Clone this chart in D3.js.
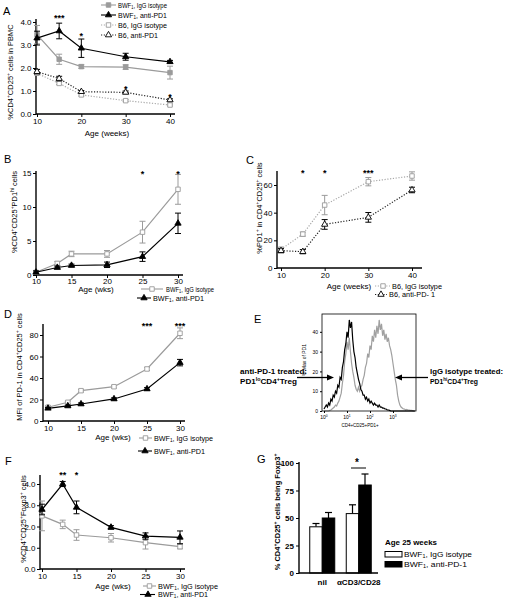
<!DOCTYPE html>
<html><head><meta charset="utf-8">
<script src="https://cdn.jsdelivr.net/npm/d3@7"></script>
<style>
body{margin:0;background:#fff}
svg{display:block}
</style></head><body>
<svg id="c" width="507" height="599"></svg>
<script>
// ================= DATA =================
// Panel A
const A_weeks=[10,15,20,30,40];
const A_bwfIgG=[3.45,2.38,2.06,2.04,1.8];
const A_bwfIgG_err=[0.4,0.22,0.08,0.1,0.28];
const A_bwfAnti=[3.3,3.61,2.86,2.49,2.27];
const A_bwfAnti_err=[0.3,0.34,0.4,0.15,0.06];
const A_b6IgG=[1.77,1.33,0.83,0.58,0.39];
const A_b6IgG_err=[0.05,0.05,0.05,0.04,0.04];
const A_b6Anti=[1.84,1.54,0.97,0.94,0.61];
const A_b6Anti_err=[0.1,0.1,0.05,0.06,0.05];
const A_starWeeks=[15,20,30,40];
const A_starVals=[4.26,3.48,1.17,0.83];
const A_starText=["***","*","*","*"];
const A_xticks=[10,20,30,40];
const A_yticks=[0,1,2,3,4];
// Panel B
const B_weeks=[10,13,15,20,25,30];
const B_igg=[0.4,1.7,3.1,3.1,6.3,12.6];
const B_igg_err=[0.2,0.3,0.4,0.5,1.6,2.2];
const B_anti=[0.4,1.1,1.4,1.5,2.7,7.6];
const B_anti_err=[0.2,0.2,0.2,0.4,0.7,1.5];
const B_starWeeks=[25,30];
const B_starVals=[15.1,15.1];
const B_starText=["*","*"];
const B_xticks=[10,15,20,25,30];
const B_yticks=[0,5,10,15];
// Panel C
const C_weeks=[10,15,20,30,40];
const C_igg=[13.5,24.5,45.5,62.4,66.5];
const C_igg_err=[1.5,1.5,7,3,3];
const C_anti=[12.5,11.8,31.5,36.6,56.4];
const C_anti_err=[1.5,1.5,3.5,3.5,2];
const C_starWeeks=[15,20,30];
const C_starVals=[70,70,70];
const C_starText=["*","*","***"];
const C_xticks=[10,20,30,40];
const C_yticks=[0,20,40,60];
// Panel D
const D_weeks=[10,13,15,20,25,30];
const D_igg=[12.8,17.4,28.2,31.9,48.4,81.6];
const D_igg_err=[1,1,1.2,1.2,1.5,5];
const D_anti=[11.8,14,15.8,20.5,29.8,54.3];
const D_anti_err=[0.8,0.8,1,1,1.2,3];
const D_starWeeks=[25,30];
const D_starVals=[90,90];
const D_starText=["***","***"];
const D_xticks=[10,15,20,25,30];
const D_yticks=[0,20,40,60,80];
// Panel E (histogram, bins of 0.05 decade starting at 10^0)
const E_binWidth=0.05;
const E_anti=[1,2,3,2,4,3,6,5,8,7,10,9,13,12,17,16,22,25,31,34,40,37,46,42,45,36,30,27,22,19,16,14,11,10,8,8,6,7,5,6,4,5,4,3,4,3,3,2,3,2,2,1.5,1.5,1,1,0.5,0.5,0.3,0,0,0,0,0,0,0,0,0,0,0,0,0,0,0,0,0,0,0,0,0,0];
const E_igg=[0,0,0,0,0,0.3,0.5,1,1.5,2,3,2.5,4,5,7,9,14,18,25,29,35,31,37,30,24,20,17,13,11,10,12,10,12,13,16,18,22,24,29,27,33,31,38,35,41,37,43,39,46,41,44,38,41,36,39,35,37,33,31,28,24,20,16,13,8,5,3,2,1.5,1,1,0.5,0.8,0.5,0.5,0.3,0.3,0.2,0,0];
const E_xticks=[1,10,100,1000];
const E_xtickExp=["0","1","2","3"];
const E_yticks=[0,10,20,30,40];
// Panel F
const F_weeks=[10,13,15,20,25,30];
const F_igg=[2.5,2.1,1.6,1.47,1.24,1.05];
const F_igg_err=[0.7,0.2,0.25,0.2,0.3,0.1];
const F_anti=[2.8,4.0,2.9,1.96,1.55,1.49];
const F_anti_err=[0.25,0.12,0.3,0.08,0.15,0.3];
const F_starWeeks=[13,15];
const F_starVals=[4.52,4.52];
const F_starText=["**","*"];
const F_xticks=[10,15,20,25,30];
const F_yticks=[0,1,2,3,4];
// Panel G
const G_cats=["nil","\u03b1CD3/CD28"];
const G_igg=[42,54];
const G_igg_err=[3,8];
const G_anti=[50,80];
const G_anti_err=[5,10];
const G_yticks=[0,25,50,75,100];

// ================= STYLES =================
const FONT='"Liberation Sans", Arial, sans-serif';
const GRAY='#9b9b9b';
const ST={
  grayFilledSq:{stroke:GRAY,dash:null,sym:'sq',fill:GRAY,ms:GRAY},
  grayOpenSq:{stroke:GRAY,dash:null,sym:'sq',fill:'#fff',ms:GRAY},
  grayOpenSqDot:{stroke:'#a8a8a8',dash:'1.2,1.6',sym:'sq',fill:'#fff',ms:GRAY},
  blackTri:{stroke:'#000',dash:null,sym:'tri',fill:'#000',ms:'#000'},
  blackOpenTriDot:{stroke:'#222',dash:'1.2,1.6',sym:'tri',fill:'#fff',ms:'#000'}
};

const svg=d3.select('#c').attr('font-family',FONT);

function rich(t,str,fs){
  const re=/([\^_])(\{[^}]*\}|.)/g; let last=0,m; const parts=[];
  while((m=re.exec(str))){
    if(m.index>last) parts.push({t:str.slice(last,m.index),k:0});
    let s=m[2]; if(s[0]==='{') s=s.slice(1,-1);
    parts.push({t:s,k:m[1]==='^'?1:-1}); last=re.lastIndex;
  }
  if(last<str.length) parts.push({t:str.slice(last),k:0});
  let cur=0;
  parts.forEach(p=>{
    const target=p.k===1?-fs*0.36:(p.k===-1?fs*0.18:0);
    t.append('tspan').attr('dy',(target-cur).toFixed(2)).attr('font-size',p.k?fs*0.66:fs).text(p.t);
    cur=target;
  });
  return t;
}
function label(g,x,y,str,o={}){
  const fs=o.fs||8;
  const t=g.append('text').attr('x',x).attr('y',y).attr('font-size',fs)
    .attr('text-anchor',o.anchor||'start').attr('font-weight',o.bold?'bold':'normal').attr('fill',o.fill||'#000');
  if(o.rot) t.attr('transform',`rotate(-90,${x},${y})`);
  if(o.len) t.attr('textLength',o.len).attr('lengthAdjust','spacingAndGlyphs');
  rich(t,str,fs);
  return t;
}
function symPath(st){
  return st.sym==='sq'?d3.symbol(d3.symbolSquare,20)():d3.symbol(d3.symbolTriangle,17)();
}
function legendEntry(g,x1,x2,mx,y,st,str,tx,len){
  g.append('line').attr('x1',x1).attr('x2',x2).attr('y1',y).attr('y2',y)
    .attr('stroke',st.stroke).attr('stroke-width',1.1).attr('stroke-dasharray',st.dash);
  g.append('path').attr('d',symPath(st)).attr('transform',`translate(${mx},${y})`)
    .attr('fill',st.fill).attr('stroke',st.ms).attr('stroke-width',0.9);
  label(g,tx,y+2.6,str,{fs:7,len:len});
}
function stars(g,x,y,weeks,vals,txt){
  weeks.forEach((w,i)=>{
    g.append('text').attr('x',x(w)).attr('y',y(vals[i])+5).attr('text-anchor','middle')
      .attr('font-size',9).attr('font-weight','bold').text(txt[i]);
  });
}
function styleAxis(a,fs,bold){
  a.select('.domain').remove();
  a.selectAll('text').attr('font-size',fs).attr('font-family',FONT).attr('fill','#000').attr('font-weight',bold?'bold':'normal');
  a.selectAll('line').attr('stroke','#000').attr('stroke-width',1);
}
function linePanel(p){
  const g=svg.append('g');
  const x=d3.scaleLinear().domain(p.xd).range(p.xr);
  const y=d3.scaleLinear().domain(p.yd).range(p.yr);
  const ax=g.append('g').attr('transform',`translate(0,${y(0)})`)
    .call(d3.axisBottom(x).tickValues(p.xticks).tickSize(3).tickPadding(p.xpad==null?1:p.xpad));
  styleAxis(ax,8);
  const ay=g.append('g').attr('transform',`translate(${p.axisX},0)`)
    .call(d3.axisLeft(y).tickValues(p.yticks).tickSize(3).tickPadding(1.5));
  styleAxis(ay,8);
  g.append('line').attr('x1',p.axisX).attr('x2',p.axisX).attr('y1',y(0)+0.6).attr('y2',p.axisTop).attr('stroke','#000').attr('stroke-width',1.4);
  g.append('line').attr('x1',p.axisX).attr('x2',p.axisRight).attr('y1',y(0)).attr('y2',y(0)).attr('stroke','#000').attr('stroke-width',1.4);
  p.series.forEach(s=>{
    const st=s.st;
    const line=d3.line().x((d,i)=>x(s.x[i])).y(d=>y(d));
    g.append('path').datum(s.y).attr('d',line).attr('fill','none').attr('stroke',st.stroke)
      .attr('stroke-width',1.2).attr('stroke-dasharray',st.dash);
    s.y.forEach((v,i)=>{
      const cx=x(s.x[i]), e=s.err[i], yt=y(v+e), yb=y(v-e);
      g.append('line').attr('x1',cx).attr('x2',cx).attr('y1',yt).attr('y2',yb).attr('stroke',st.ms).attr('stroke-width',1);
      [yt,yb].forEach(yy=>g.append('line').attr('x1',cx-3).attr('x2',cx+3).attr('y1',yy).attr('y2',yy).attr('stroke',st.ms).attr('stroke-width',1));
    });
    g.selectAll(null).data(s.y).join('path').attr('d',symPath(st))
      .attr('transform',(d,i)=>`translate(${x(s.x[i])},${y(d)})`)
      .attr('fill',st.fill).attr('stroke',st.ms).attr('stroke-width',0.9);
  });
  stars(g,x,y,p.starWeeks,p.starVals,p.starText);
  return {g,x,y};
}

// ================= PANEL A =================
{
  const P=linePanel({xd:[10,40],xr:[37,170],yd:[0,4],yr:[114,22],axisX:36,axisTop:19,axisRight:175,
    xticks:A_xticks,yticks:A_yticks,
    series:[
      {x:A_weeks,y:A_b6IgG,err:A_b6IgG_err,st:ST.grayOpenSqDot},
      {x:A_weeks,y:A_b6Anti,err:A_b6Anti_err,st:ST.blackOpenTriDot},
      {x:A_weeks,y:A_bwfIgG,err:A_bwfIgG_err,st:ST.grayFilledSq},
      {x:A_weeks,y:A_bwfAnti,err:A_bwfAnti_err,st:ST.blackTri}],
    starWeeks:A_starWeeks,starVals:A_starVals,starText:A_starText});
  const g=P.g;
  label(g,3,15,'A',{fs:11});
  label(g,13,72,'%CD4^+CD25^+ cells in PBMC',{fs:7.5,rot:true,anchor:'middle'});
  label(g,107,136,'Age (weeks)',{fs:8,anchor:'middle'});
  legendEntry(g,101,116,108.5,5,ST.grayFilledSq,'BWF_1, IgG isotype',118,49);
  legendEntry(g,101,116,108.5,15,ST.blackTri,'BWF_1, anti-PD1',118,49);
  legendEntry(g,101,116,108.5,25,ST.grayOpenSqDot,'B6, IgG isotype',118,49);
  legendEntry(g,101,116,108.5,35,ST.blackOpenTriDot,'B6, anti-PD1',118,40);
}
// ================= PANEL B =================
{
  const P=linePanel({xd:[10,30],xr:[36,178],yd:[0,15],yr:[275,173],axisX:36,axisTop:171,axisRight:183,xpad:0,
    xticks:B_xticks,yticks:B_yticks,
    series:[
      {x:B_weeks,y:B_igg,err:B_igg_err,st:ST.grayOpenSq},
      {x:B_weeks,y:B_anti,err:B_anti_err,st:ST.blackTri}],
    starWeeks:B_starWeeks,starVals:B_starVals,starText:B_starText});
  const g=P.g;
  label(g,4,163,'B',{fs:11});
  label(g,17,212,'%CD4^+CD25^+PD1^{hi} cells',{fs:7.5,rot:true,anchor:'middle'});
  label(g,96,291.5,'Age (wks)',{fs:8,anchor:'middle'});
  legendEntry(g,141,163,152,289,ST.grayOpenSq,'BWF_1, IgG isotype',166,48);
  legendEntry(g,137,151,144,298,ST.blackTri,'BWF_1, anti-PD1',153,51);
}
// ================= PANEL C =================
{
  const P=linePanel({xd:[10,40],xr:[281,412],yd:[0,60],yr:[268,185],axisX:277,axisTop:171,axisRight:422,
    xticks:C_xticks,yticks:C_yticks,
    series:[
      {x:C_weeks,y:C_igg,err:C_igg_err,st:ST.grayOpenSqDot},
      {x:C_weeks,y:C_anti,err:C_anti_err,st:ST.blackOpenTriDot}],
    starWeeks:C_starWeeks,starVals:C_starVals,starText:C_starText});
  const g=P.g;
  label(g,246,164,'C',{fs:11});
  label(g,262,208,'%PD1^+ in CD4^+CD25^+ cells',{fs:7.5,rot:true,anchor:'middle'});
  label(g,349,289,'Age (weeks)',{fs:8,anchor:'middle'});
  legendEntry(g,375,390,383,286,ST.grayOpenSqDot,'B6, IgG isotype',392,50);
  legendEntry(g,375,387,381,294.5,ST.blackOpenTriDot,'B6, anti-PD- 1',389,46);
}
// ================= PANEL D =================
{
  const P=linePanel({xd:[10,30],xr:[48,180],yd:[0,80],yr:[421,335],axisX:43,axisTop:324,axisRight:185,
    xticks:D_xticks,yticks:D_yticks,
    series:[
      {x:D_weeks,y:D_igg,err:D_igg_err,st:ST.grayOpenSq},
      {x:D_weeks,y:D_anti,err:D_anti_err,st:ST.blackTri}],
    starWeeks:D_starWeeks,starVals:D_starVals,starText:D_starText});
  const g=P.g;
  label(g,4,318,'D',{fs:11});
  label(g,22,367,'MFI of PD-1 in CD4^+CD25^+ cells',{fs:7.5,rot:true,anchor:'middle'});
  label(g,113,440,'Age (wks)',{fs:8,anchor:'middle'});
  legendEntry(g,139,152,145.5,438,ST.grayOpenSq,'BWF_1, IgG isotype',154,59);
  legendEntry(g,138,152,145,451,ST.blackTri,'BWF_1, anti-PD1',154,51);
}
// ================= PANEL E =================
{
  const g=svg.append('g');
  const x=d3.scaleLog().domain([0.82,10000]).range([322,416]);
  const y=d3.scaleLinear().domain([0,49]).range([411,314]);
  const line=d3.line().x((d,i)=>x(Math.pow(10,i*E_binWidth))).y(d=>y(d));
  g.append('path').datum(E_igg).attr('d',line).attr('fill','none').attr('stroke','#a0a0a0').attr('stroke-width',1.2);
  g.append('path').datum(E_anti).attr('d',line).attr('fill','none').attr('stroke','#000').attr('stroke-width',1.2);
  g.append('rect').attr('x',322).attr('y',314).attr('width',94).attr('height',97).attr('fill','none').attr('stroke','#000').attr('stroke-width',0.8);
  const ay=g.append('g').attr('transform','translate(322,0)').call(d3.axisLeft(y).tickValues(E_yticks).tickSize(2).tickPadding(2));
  styleAxis(ay,5);
  const ax=g.append('g').attr('transform','translate(0,411)').call(d3.axisBottom(x).tickValues(E_xticks).tickSize(2).tickFormat(''));
  styleAxis(ax,5);
  E_xticks.forEach((v,i)=>label(g,x(v),419,'10^'+E_xtickExp[i],{fs:5,anchor:'middle'}));
  label(g,360,427,'CD4+CD25+PD1+',{fs:4.5,anchor:'middle'});
  label(g,306,360,'% Max of PD1',{fs:5,rot:true,anchor:'middle'});
  label(g,254,323,'E',{fs:11});
  label(g,240,374,'anti-PD-1 treated:',{fs:7.5,bold:true,len:67});
  label(g,240,383.5,'PD1^{lo}CD4^+Treg',{fs:7.5,bold:true,len:57});
  label(g,430,374,'IgG isotype treated:',{fs:7.5,bold:true,len:73});
  label(g,430,383.5,'PD1^{hi}CD4^+Treg',{fs:7.5,bold:true,len:48});
  g.append('line').attr('x1',297).attr('x2',328).attr('y1',377.5).attr('y2',377.5).attr('stroke','#000').attr('stroke-width',1.3);
  g.append('path').attr('d','M334,377.5 L327,374.5 L327,380.5 Z').attr('fill','#000');
  g.append('line').attr('x1',428).attr('x2',401).attr('y1',377.5).attr('y2',377.5).attr('stroke','#000').attr('stroke-width',1.3);
  g.append('path').attr('d','M395,377.5 L402,374.5 L402,380.5 Z').attr('fill','#000');
}
// ================= PANEL F =================
{
  const P=linePanel({xd:[10,30],xr:[42,180],yd:[0,4],yr:[569,484],axisX:40,axisTop:475,axisRight:185,
    xticks:F_xticks,yticks:F_yticks,
    series:[
      {x:F_weeks,y:F_igg,err:F_igg_err,st:ST.grayOpenSq},
      {x:F_weeks,y:F_anti,err:F_anti_err,st:ST.blackTri}],
    starWeeks:F_starWeeks,starVals:F_starVals,starText:F_starText});
  const g=P.g;
  label(g,5,465,'F',{fs:11});
  label(g,26,519,'%CD4^+CD25^+Foxp3^+ cells',{fs:7.5,rot:true,anchor:'middle'});
  label(g,113,589,'Age (wks)',{fs:8,anchor:'middle'});
  legendEntry(g,143,156,149.5,586,ST.grayOpenSq,'BWF_1, IgG isotype',158,60);
  legendEntry(g,140,155,148,594.5,ST.blackTri,'BWF_1, anti-PD1',158,50);
}
// ================= PANEL G =================
{
  const g=svg.append('g');
  const y=d3.scaleLinear().domain([0,100]).range([573,463]);
  const xb=d3.scaleBand().domain(G_cats).range([304,377]);
  const xs=d3.scaleBand().domain(['igg','anti']).range([-12.5,12.5]);
  const series=[{k:'igg',v:G_igg,e:G_igg_err,fill:'#fff'},{k:'anti',v:G_anti,e:G_anti_err,fill:'#000'}];
  series.forEach(s=>{
    G_cats.forEach((c,i)=>{
      const bx=xb(c)+xb.bandwidth()/2+xs(s.k);
      const top=y(s.v[i]+s.e[i]), cx=bx+xs.bandwidth()/2;
      g.append('line').attr('x1',cx).attr('x2',cx).attr('y1',y(s.v[i])).attr('y2',top).attr('stroke','#000').attr('stroke-width',1.2);
      g.append('line').attr('x1',cx-3.5).attr('x2',cx+3.5).attr('y1',top).attr('y2',top).attr('stroke','#000').attr('stroke-width',1.2);
      g.append('rect').attr('x',bx).attr('y',y(s.v[i])).attr('width',xs.bandwidth()).attr('height',y(0)-y(s.v[i]))
        .attr('fill',s.fill).attr('stroke','#000').attr('stroke-width',1);
    });
  });
  const ay=g.append('g').attr('transform','translate(299,0)').call(d3.axisLeft(y).tickValues(G_yticks).tickSize(3).tickPadding(2));
  styleAxis(ay,8,true);
  const ax=g.append('g').attr('transform','translate(0,573)').call(d3.axisBottom(xb).tickSize(0).tickPadding(6));
  styleAxis(ax,8,true);
  g.append('line').attr('x1',299).attr('x2',299).attr('y1',573.6).attr('y2',462).attr('stroke','#000').attr('stroke-width',1.4);
  g.append('line').attr('x1',299).attr('x2',378).attr('y1',573).attr('y2',573).attr('stroke','#000').attr('stroke-width',1.4);
  g.append('text').attr('x',357).attr('y',466).attr('text-anchor','middle').attr('font-size',10).attr('font-weight','bold').text('*');
  g.append('line').attr('x1',351).attr('x2',366).attr('y1',468).attr('y2',468).attr('stroke','#000').attr('stroke-width',1);
  label(g,257,463,'G',{fs:11});
  label(g,280,512,'% CD4^+CD25^+ cells being Foxp3^+',{fs:7.5,bold:true,rot:true,anchor:'middle'});
  label(g,385,545,'Age 25 weeks',{fs:7.5,bold:true,len:52});
  g.append('rect').attr('x',385).attr('y',551.5).attr('width',17).attr('height',5.5).attr('fill','#fff').attr('stroke','#000').attr('stroke-width',1);
  g.append('rect').attr('x',385).attr('y',561.5).attr('width',17).attr('height',5.5).attr('fill','#000').attr('stroke','#000').attr('stroke-width',1);
  label(g,404,557,'BWF_1, IgG isotype',{fs:7.5,len:68});
  label(g,404,567,'BWF_1, anti-PD-1',{fs:7.5,len:63});
}
</script>
</body></html>
